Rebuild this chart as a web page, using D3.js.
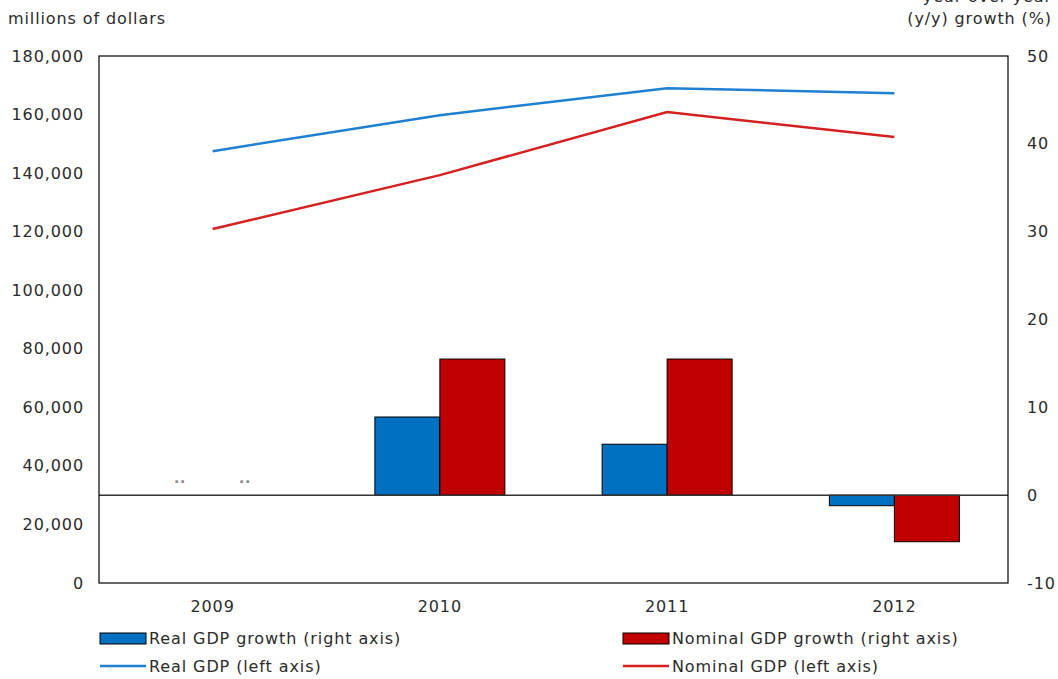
<!DOCTYPE html>
<html>
<head>
<meta charset="utf-8">
<script src="https://cdn.jsdelivr.net/npm/d3@7"></script>
<style>
  body { margin: 0; background: #fff; }
  text { font-family: "DejaVu Sans", Verdana, sans-serif; font-size: 16px; letter-spacing: 0.9px; fill: #2b2b2b; }
</style>
</head>
<body>
<svg id="chart"></svg>
<script>
// data
const years = ["2009", "2010", "2011", "2012"];
const realGdp = [147500, 159800, 169000, 167300];
const nominalGdp = [120900, 139300, 160900, 152300];
const realGrowth = [null, 8.9, 5.8, -1.2];
const nominalGrowth = [null, 15.5, 15.5, -5.3];
const leftTicks = [0, 20000, 40000, 60000, 80000, 100000, 120000, 140000, 160000, 180000];
const rightTicks = [-10, 0, 10, 20, 30, 40, 50];

const width = 1058, height = 679;
const margin = {top: 56, right: 50, bottom: 96, left: 99};

const svg = d3.select("#chart").attr("width", width).attr("height", height);

const x = d3.scaleBand().domain(years).range([margin.left, width - margin.right]);
const yL = d3.scaleLinear().domain([0, 180000]).range([height - margin.bottom, margin.top]);
const yR = d3.scaleLinear().domain([-10, 50]).range([height - margin.bottom, margin.top]);
const barW = 65;

const fmt = d3.format(",");

// left axis labels
svg.append("g").selectAll("text").data(leftTicks).join("text")
  .attr("x", 84).attr("y", d => yL(d)).attr("dy", "0.35em")
  .attr("text-anchor", "end").text(d => fmt(d));

// right axis labels
svg.append("g").selectAll("text").data(rightTicks).join("text")
  .attr("x", 1027).attr("y", d => yR(d)).attr("dy", "0.35em")
  .text(d => d);

// axis titles
svg.append("text").attr("x", 8).attr("y", 24).text("millions of dollars");
svg.append("text").attr("x", 1052).attr("y", 2).attr("text-anchor", "end").text("year-over-year");
svg.append("text").attr("x", 1052).attr("y", 24).attr("text-anchor", "end").text("(y/y) growth (%)");

// bars
const bars = svg.append("g");
const barSeries = [
  {vals: realGrowth, color: "#0070C0", off: -barW},
  {vals: nominalGrowth, color: "#C00000", off: 0}
];
barSeries.forEach(s => {
  bars.selectAll(null).data(years.map((y, i) => ({y, v: s.vals[i]})).filter(d => d.v != null))
    .join("rect")
    .attr("x", d => x(d.y) + x.bandwidth() / 2 + s.off)
    .attr("width", barW)
    .attr("y", d => Math.min(yR(d.v), yR(0)))
    .attr("height", d => Math.abs(yR(d.v) - yR(0)))
    .attr("fill", s.color)
    .attr("stroke", "#000").attr("stroke-width", 1);
  // ".." for unavailable values
  bars.selectAll(null).data(years.map((y, i) => ({y, v: s.vals[i]})).filter(d => d.v == null))
    .join("text")
    .attr("x", d => x(d.y) + x.bandwidth() / 2 + s.off + barW / 2)
    .attr("y", yR(0) - 12)
    .attr("text-anchor", "middle")
    .style("font-size", "14px").style("font-weight", "bold").style("fill", "#888")
    .text("..");
});

// zero line
svg.append("line")
  .attr("x1", margin.left).attr("x2", width - margin.right)
  .attr("y1", yR(0)).attr("y2", yR(0))
  .attr("stroke", "#333").attr("stroke-width", 1.5);

// lines
const line = d3.line().x((d, i) => x(years[i]) + x.bandwidth() / 2).y(d => yL(d));
svg.append("path").datum(realGdp).attr("d", line)
  .attr("fill", "none").attr("stroke", "#1F7FD1").attr("stroke-width", 2.5);
svg.append("path").datum(nominalGdp).attr("d", line)
  .attr("fill", "none").attr("stroke", "#D42020").attr("stroke-width", 2.5);

// plot frame
svg.append("rect")
  .attr("x", margin.left).attr("y", margin.top)
  .attr("width", width - margin.left - margin.right)
  .attr("height", height - margin.top - margin.bottom)
  .attr("fill", "none").attr("stroke", "#000").attr("stroke-width", 1.2);

// x labels
svg.append("g").selectAll("text").data(years).join("text")
  .attr("x", d => x(d) + x.bandwidth() / 2).attr("y", 612)
  .attr("text-anchor", "middle").text(d => d);

// legend
const legend = [
  {label: "Real GDP growth (right axis)", color: "#0070C0", type: "bar", lx: 100, ly: 638},
  {label: "Nominal GDP growth (right axis)", color: "#C00000", type: "bar", lx: 623, ly: 638},
  {label: "Real GDP (left axis)", color: "#1F7FD1", type: "line", lx: 100, ly: 666},
  {label: "Nominal GDP (left axis)", color: "#D42020", type: "line", lx: 623, ly: 666}
];
const lg = svg.append("g").selectAll("g").data(legend).join("g")
  .attr("transform", d => `translate(${d.lx},${d.ly})`);
lg.filter(d => d.type === "bar").append("rect")
  .attr("x", 0).attr("y", -5).attr("width", 46).attr("height", 11)
  .attr("fill", d => d.color).attr("stroke", "#000").attr("stroke-width", 1);
lg.filter(d => d.type === "line").append("line")
  .attr("x1", 0).attr("x2", 46).attr("y1", 0).attr("y2", 0)
  .attr("stroke", d => d.color).attr("stroke-width", 2.5);
lg.append("text").attr("x", 49).attr("y", 0).attr("dy", "0.35em").text(d => d.label);
</script>
</body>
</html>
